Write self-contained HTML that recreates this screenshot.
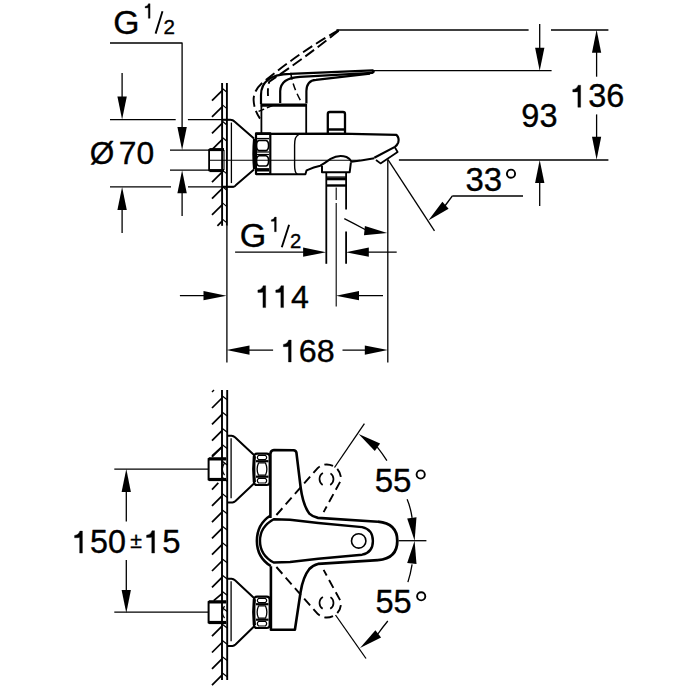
<!DOCTYPE html>
<html><head><meta charset="utf-8"><style>
html,body{margin:0;padding:0;background:#fff;width:700px;height:700px;overflow:hidden}
svg{display:block}
text{font-family:"Liberation Sans",sans-serif;fill:#000;stroke:#000;stroke-width:0.35px}
</style></head><body>
<svg width="700" height="700" viewBox="0 0 700 700" fill="none" stroke="#000" stroke-linecap="butt" stroke-linejoin="round">
<g>
<text x="113.31" y="33.96" font-size="33.73">G</text>
<path d="M150.07 3.70 L150.07 18.30 L148.33 18.30 L148.33 7.80 Q147.56 7.90 145.10 7.94 L145.10 6.47 Q147.87 6.26 148.48 3.70 Z" fill="#000" stroke="#000" stroke-width="0.35"/>
<path d="M155.6 33.6 L162.5 11.3" stroke-width="1.9" />
<text x="163.57" y="34.00" font-size="20.58">2</text>
<path d="M110.0 43.0 L182.1 43.0 L182.1 140.0" stroke-width="1.3" />
<path d="M182.1 150.0 L177.4 127.0 L186.8 127.0 Z" fill="#000" stroke="none"/>
<path d="M122.1 73.0 L122.1 110.0" stroke-width="1.3" />
<path d="M122.1 119.5 L117.4 96.5 L126.8 96.5 Z" fill="#000" stroke="none"/>
<path d="M110.0 119.7 L175.7 119.7" stroke-width="1.3" />
<path d="M187.9 119.7 L230.3 119.7" stroke-width="1.3" />
<path d="M110.0 186.8 L171.0 186.8" stroke-width="1.3" />
<path d="M188.0 186.8 L233.5 186.8" stroke-width="1.3" />
<path d="M122.1 197.0 L122.1 233.0" stroke-width="1.3" />
<path d="M122.1 187.0 L126.8 210.0 L117.4 210.0 Z" fill="#000" stroke="none"/>
<text x="89.72" y="163.71" font-size="31.55">&#216;</text>
<text x="118.73" y="164.18" font-size="31.82">70</text>
<path d="M170.0 150.2 L209.0 150.2" stroke-width="1.3" />
<path d="M170.0 170.2 L209.0 170.2" stroke-width="1.3" />
<path d="M182.1 180.0 L182.1 216.0" stroke-width="1.3" />
<path d="M182.1 170.3 L186.8 193.3 L177.4 193.3 Z" fill="#000" stroke="none"/>
<path d="M222.1 83.0 L222.1 225.8" stroke-width="1.9" />
<path d="M226.9 83.0 L226.9 225.8" stroke-width="1.9" />
<path d="M226.9 225.8 L226.9 362.4" stroke-width="1.3" />
<path d="M212.0 100.6 L222.1 90.6" stroke-width="1.7" />
<path d="M222.1 88.3 L226.9 92.3" stroke-width="1.2" />
<path d="M212.0 116.9 L222.1 106.9" stroke-width="1.7" />
<path d="M222.1 104.6 L226.9 108.6" stroke-width="1.2" />
<path d="M212.0 133.3 L222.1 123.3" stroke-width="1.7" />
<path d="M222.1 121.0 L226.9 125.0" stroke-width="1.2" />
<path d="M212.0 149.6 L222.1 139.6" stroke-width="1.7" />
<path d="M222.1 137.3 L226.9 141.3" stroke-width="1.2" />
<path d="M212.0 182.2 L222.1 172.2" stroke-width="1.7" />
<path d="M222.1 169.9 L226.9 173.9" stroke-width="1.2" />
<path d="M212.0 198.6 L222.1 188.6" stroke-width="1.7" />
<path d="M222.1 186.3 L226.9 190.3" stroke-width="1.2" />
<path d="M212.0 214.9 L222.1 204.9" stroke-width="1.7" />
<path d="M222.1 202.6 L226.9 206.6" stroke-width="1.2" />
<path d="M217.4 225.8 L222.1 221.2" stroke-width="1.7" />
<path d="M222.1 218.9 L226.9 222.9" stroke-width="1.2" />
<path d="M222 119.7 H230.3 Q233 119.8 234.5 121.5 L254 138.6" stroke-width="2"/>
<path d="M222 186.8 H233.5 Q235 186.5 236 185 L254 169.4" stroke-width="2"/>
<path d="M231.4 122.6 L231.4 183.1" stroke-width="1.3" />
<path d="M224 149.7 H209.1 V170.4 H224" stroke-width="1.8"/>
<path d="M209.5 149.6 L224.0 149.6" stroke-width="3" />
<path d="M209.5 170.6 L224.0 170.6" stroke-width="3" />
<path d="M224.0 150.0 L224.0 170.0" stroke-width="1.1" />
<path d="M209.0 160.3 L360.0 160.3" stroke-width="1.1" />
<path d="M256 133.4 H270.3 V174 H256 Z" stroke-width="2.2"/>
<path d="M254.6 138.6 Q253.2 154 254.6 169.4" stroke-width="3.2"/>
<path d="M259 140.5 H266 Q268.6 141 268.6 145.5 Q268.6 150 266 150.6 H259 Q256.5 150 256.5 145.5 Q256.5 141 259 140.5 Z" stroke-width="1.6"/>
<path d="M259 155.7 H266 Q268.6 156.3 268.6 160.8 Q268.6 165.5 266 166 H259 Q256.5 165.5 256.5 160.8 Q256.5 156.3 259 155.7 Z" stroke-width="1.6"/>
<path d="M256.5 138.6 L269.0 138.6" stroke-width="1.4" />
<path d="M256.5 152.0 L269.0 152.0" stroke-width="1.2" />
<path d="M256.5 154.5 L269.0 154.5" stroke-width="1.2" />
<path d="M256.5 169.8 L269.0 169.8" stroke-width="3.4" />
<path d="M261.4 104.0 L261.4 133.4" stroke-width="1.8" />
<path d="M306.2 104.0 L306.2 133.4" stroke-width="1.8" />
<path d="M260.7 105.2 L306.4 105.2" stroke-width="3.2" />
<path d="M256 133.8 L340 133.6 L396.6 134.9 Q399.5 138 398.3 142.3 Q397 145.5 394.9 146.9 L374.3 157.7" stroke-width="2.2"/>
<path d="M298.6 134.9 Q294.6 136 294.6 145 L294.6 165 Q294.6 173 297.4 174.2" stroke-width="1.4"/>
<path d="M256 174.3 H305.4 L306.6 170.3 Q314 167 320.3 165.7 Q325 163 330.6 158.9 Q338.6 154.3 346.5 157 Q350 158.5 351.4 161.7 Q362 160.5 374.3 158.3" stroke-width="2"/>
<path d="M322 165.7 V172.2 H349.7 L350.9 162.3" stroke-width="2"/>
<path d="M394.9 147.4 L397.6 152 L380.5 163.4 L376 160" stroke-width="1.8"/>
<path d="M327.8 133.4 V114 Q327.8 112 329.8 112 H343 Q345 112 345 114 V133.4 M327.8 129.5 H345" stroke-width="2.3"/>
<path d="M326.3 172.0 L326.3 263.8" stroke-width="1.8" />
<path d="M346.1 172.0 L346.1 209.5" stroke-width="1.8" />
<path d="M346.1 231.5 L346.1 263.8" stroke-width="1.8" />
<path d="M326.3 177.1 L346.1 177.1" stroke-width="1.4" />
<path d="M326.3 179.1 L346.1 179.1" stroke-width="2.4" />
<path d="M326.3 185.5 L346.1 185.5" stroke-width="2.4" />
<path d="M336.2 187.4 L336.2 200.0" stroke-width="1.1" />
<path d="M336.2 203.0 L336.2 306.5" stroke-width="1.1" />
<path d="M261 104 L261 95 C261 84 268 74.2 290 73.8 L372.9 70.4 Q375 71.6 372.1 72.9 L300 76.8 C287 77.5 280.5 82 280.2 91 L280.2 103" stroke-width="2.2"/>
<path d="M306.4 103.6 L306.4 91 C306.5 84 309.5 80.3 316 79.8 L370 73.6" stroke-width="2.2"/>
<path d="M338.7 30.1 Q299.8 52 261.6 83.5 Q253.5 91 253.6 100 Q254 110 260 118.6" stroke-width="1.9" stroke-dasharray="11 4.5"/>
<path d="M338.7 30.8 Q304 58.5 269.3 81.6 Q267.5 86 268 96" stroke-width="1.9" stroke-dasharray="11 4.5"/>
<path d="M290.7 72.9 Q293 88 302 103" stroke-width="1.5" stroke-dasharray="7 4"/>
<path d="M258.6 111.4 L275 104.5" stroke-width="1.5" stroke-dasharray="6 3"/>
<path d="M336.4 30.0 L528.6 30.0" stroke-width="1.3" />
<path d="M551.0 30.0 L608.4 30.0" stroke-width="1.3" />
<path d="M372.6 70.7 L551.6 70.7" stroke-width="1.3" />
<path d="M539.7 24.0 L539.7 60.0" stroke-width="1.3" />
<path d="M539.7 70.7 L535.1 47.7 L544.4 47.7 Z" fill="#000" stroke="none"/>
<path d="M596.6 40.0 L596.6 76.7" stroke-width="1.3" />
<path d="M596.6 29.7 L601.2 52.7 L592.0 52.7 Z" fill="#000" stroke="none"/>
<path d="M596.6 114.4 L596.6 149.0" stroke-width="1.3" />
<path d="M596.6 159.7 L592.0 136.7 L601.2 136.7 Z" fill="#000" stroke="none"/>
<path d="M398.9 160.0 L608.4 160.0" stroke-width="1.3" />
<path d="M539.7 170.0 L539.7 205.9" stroke-width="1.3" />
<path d="M539.7 160.0 L544.4 183.0 L535.1 183.0 Z" fill="#000" stroke="none"/>
<path d="M580.63 85.22 L580.63 107.28 L577.87 107.28 L577.87 91.71 Q576.65 91.87 572.76 91.94 L572.76 89.60 Q577.14 89.28 578.11 85.22 Z" fill="#000" stroke="#000" stroke-width="0.35"/>
<text x="588.20" y="107.28" font-size="32.43">3</text>
<text x="606.24" y="107.28" font-size="32.43">6</text>
<text x="521.36" y="127.48" font-size="32.49">93</text>
<path d="M387.8 159.4 L434.5 230.8" stroke-width="1.3" />
<path d="M452.3 196.0 L523.0 196.0" stroke-width="1.3" />
<path d="M443.0 208.5 L452.3 196.0" stroke-width="1.3" />
<path d="M428.3 220.5 L442.4 201.8 L448.6 208.7 Z" fill="#000" stroke="none"/>
<text x="465.57" y="190.77" font-size="32.92">33</text>
<circle cx="511" cy="173.7" r="4.1" stroke-width="1.9"/>
<path d="M387.8 160.0 L387.8 362.4" stroke-width="1.3" />
<text x="239.70" y="247.26" font-size="34.05">G</text>
<path d="M276.27 217.10 L276.27 231.70 L274.53 231.70 L274.53 221.20 Q273.76 221.30 271.30 221.34 L271.30 219.87 Q274.07 219.66 274.68 217.10 Z" fill="#000" stroke="#000" stroke-width="0.35"/>
<path d="M281.8 247.2 L289.1 224.8" stroke-width="1.9" />
<text x="289.99" y="247.70" font-size="20.25">2</text>
<path d="M235.1 252.2 L316.0 252.2" stroke-width="1.3" />
<path d="M326.1 252.2 L303.1 256.8 L303.1 247.5 Z" fill="#000" stroke="none"/>
<path d="M396.7 252.2 L356.0 252.2" stroke-width="1.3" />
<path d="M345.8 252.2 L368.8 247.5 L368.8 256.8 Z" fill="#000" stroke="none"/>
<path d="M344.3 218.6 Q354 223.5 366 230" stroke-width="1.3"/>
<path d="M387.3 232.9 L364.0 235.2 L364.9 226.0 Z" fill="#000" stroke="none"/>
<path d="M179.9 295.7 L216.0 295.7" stroke-width="1.3" />
<path d="M226.5 295.7 L203.5 300.3 L203.5 291.1 Z" fill="#000" stroke="none"/>
<path d="M383.0 295.7 L346.0 295.7" stroke-width="1.3" />
<path d="M336.0 295.7 L359.0 291.1 L359.0 300.3 Z" fill="#000" stroke="none"/>
<path d="M265.66 285.72 L265.66 307.60 L262.93 307.60 L262.93 292.15 Q261.72 292.31 257.86 292.38 L257.86 290.06 Q262.21 289.74 263.17 285.72 Z" fill="#000" stroke="#000" stroke-width="0.35"/>
<path d="M283.56 285.72 L283.56 307.60 L280.83 307.60 L280.83 292.15 Q279.62 292.31 275.76 292.38 L275.76 290.06 Q280.10 289.74 281.07 285.72 Z" fill="#000" stroke="#000" stroke-width="0.35"/>
<text x="291.08" y="307.60" font-size="32.18">4</text>
<path d="M236.0 350.1 L273.1 350.1" stroke-width="1.3" />
<path d="M226.5 350.1 L249.5 345.5 L249.5 354.8 Z" fill="#000" stroke="none"/>
<path d="M342.5 350.1 L377.0 350.1" stroke-width="1.3" />
<path d="M387.8 350.1 L364.8 354.8 L364.8 345.5 Z" fill="#000" stroke="none"/>
<path d="M291.18 340.06 L291.18 361.98 L288.44 361.98 L288.44 346.50 Q287.23 346.67 283.36 346.73 L283.36 344.41 Q287.71 344.09 288.68 340.06 Z" fill="#000" stroke="#000" stroke-width="0.35"/>
<text x="298.71" y="361.98" font-size="32.24">6</text>
<text x="316.64" y="361.98" font-size="32.24">8</text>
<path d="M222.0 389.9 L222.0 680.0" stroke-width="1.9" />
<path d="M227.2 389.9 L227.2 680.0" stroke-width="1.9" />
<path d="M212.0 392.0 L214.0 390.0" stroke-width="1.5" />
<path d="M212.0 408.0 L222.0 398.0" stroke-width="1.7" />
<path d="M222.0 395.7 L227.2 399.7" stroke-width="1.2" />
<path d="M212.0 424.3 L222.0 414.3" stroke-width="1.7" />
<path d="M222.0 412.0 L227.2 416.0" stroke-width="1.2" />
<path d="M212.0 440.6 L222.0 430.6" stroke-width="1.7" />
<path d="M222.0 428.3 L227.2 432.3" stroke-width="1.2" />
<path d="M212.0 456.9 L222.0 446.9" stroke-width="1.7" />
<path d="M222.0 444.6 L227.2 448.6" stroke-width="1.2" />
<path d="M222.0 460.9 L227.2 464.9" stroke-width="1.2" />
<path d="M222.0 477.2 L227.2 481.2" stroke-width="1.2" />
<path d="M212.0 505.8 L222.0 495.8" stroke-width="1.7" />
<path d="M222.0 493.5 L227.2 497.5" stroke-width="1.2" />
<path d="M212.0 522.1 L222.0 512.1" stroke-width="1.7" />
<path d="M222.0 509.8 L227.2 513.8" stroke-width="1.2" />
<path d="M212.0 538.4 L222.0 528.4" stroke-width="1.7" />
<path d="M222.0 526.1 L227.2 530.1" stroke-width="1.2" />
<path d="M212.0 554.7 L222.0 544.7" stroke-width="1.7" />
<path d="M222.0 542.4 L227.2 546.4" stroke-width="1.2" />
<path d="M212.0 571.0 L222.0 561.0" stroke-width="1.7" />
<path d="M222.0 558.7 L227.2 562.7" stroke-width="1.2" />
<path d="M212.0 587.3 L222.0 577.3" stroke-width="1.7" />
<path d="M222.0 575.0 L227.2 579.0" stroke-width="1.2" />
<path d="M222.0 591.3 L227.2 595.3" stroke-width="1.2" />
<path d="M222.0 607.6 L227.2 611.6" stroke-width="1.2" />
<path d="M212.0 636.2 L222.0 626.2" stroke-width="1.7" />
<path d="M222.0 623.9 L227.2 627.9" stroke-width="1.2" />
<path d="M212.0 652.5 L222.0 642.5" stroke-width="1.7" />
<path d="M222.0 640.2 L227.2 644.2" stroke-width="1.2" />
<path d="M212.0 668.8 L222.0 658.8" stroke-width="1.7" />
<path d="M222.0 656.5 L227.2 660.5" stroke-width="1.2" />
<path d="M212.0 685.1 L222.0 675.1" stroke-width="1.7" />
<path d="M222.0 672.8 L227.2 676.8" stroke-width="1.2" />
<path d="M212.0 489.7 L218.3 482.9" stroke-width="1.7" />
<path d="M212.0 456.0 L222.0 446.9" stroke-width="1.7" />
<path d="M213.7 600.7 L222.3 593.4" stroke-width="1.7" />
<path d="M227.6 435.7 H231.5 Q233.5 435.9 235 437.2 L254 454.9" stroke-width="2"/>
<path d="M228 502.5 H232.5 Q234 502.3 235.5 501.0 L254 483.5" stroke-width="2"/>
<path d="M231.1 438.2 L231.1 498.2" stroke-width="1.3" />
<path d="M257 453.7 H266.7 Q269.7 453.7 269.7 456.7 V482.0 Q269.7 485.0 266.7 485.0 H257 Q254 485.0 254 482.0 V456.7 Q254 453.7 257 453.7 Z" stroke-width="2.2"/>
<path d="M254.4 456.2 Q253 469.2 254.4 482.2" stroke-width="3.2"/>
<path d="M256.0 461.2 L268.5 461.2" stroke-width="2.2" />
<path d="M256.0 476.7 L268.5 476.7" stroke-width="2.2" />
<path d="M258.5 455.4 H265.5 Q267.8 457.7 265.5 459.5 H258.5 Q256.2 457.7 258.5 455.4 Z" stroke-width="1.2"/>
<path d="M258.5 483.0 H265.5 Q267.8 480.7 265.5 478.4 H258.5 Q256.2 480.7 258.5 483.0 Z" stroke-width="1.2"/>
<path d="M258.5 462.9 H265.5 Q268.3 469.2 265.5 475.2 H258.5 Q255.7 469.2 258.5 462.9 Z" stroke-width="1.3"/>
<path d="M226.3 458.7 H208.6 V479.7 H226.3" stroke-width="2"/>
<path d="M209.0 458.9 L226.0 458.9" stroke-width="3.2" />
<path d="M209.0 479.5 L226.0 479.5" stroke-width="3.2" />
<path d="M224.5 463.2 Q220 469.2 224.5 475.2" stroke-width="1.3"/>
<path d="M114.3 469.2 L208.6 469.2" stroke-width="1.3" />
<path d="M227.6 578.7 H231.5 Q233.5 578.9000000000001 235 580.2 L254 597.9000000000001" stroke-width="2"/>
<path d="M228 646.0 H232.5 Q234 645.8 235.5 644.5 L254 626.5" stroke-width="2"/>
<path d="M231.1 581.2 L231.1 641.2" stroke-width="1.3" />
<path d="M257 596.7 H266.7 Q269.7 596.7 269.7 599.7 V625.0 Q269.7 628.0 266.7 628.0 H257 Q254 628.0 254 625.0 V599.7 Q254 596.7 257 596.7 Z" stroke-width="2.2"/>
<path d="M254.4 599.2 Q253 612.2 254.4 625.2" stroke-width="3.2"/>
<path d="M256.0 604.2 L268.5 604.2" stroke-width="2.2" />
<path d="M256.0 619.7 L268.5 619.7" stroke-width="2.2" />
<path d="M258.5 598.4000000000001 H265.5 Q267.8 600.7 265.5 602.5 H258.5 Q256.2 600.7 258.5 598.4000000000001 Z" stroke-width="1.2"/>
<path d="M258.5 626.0 H265.5 Q267.8 623.7 265.5 621.4000000000001 H258.5 Q256.2 623.7 258.5 626.0 Z" stroke-width="1.2"/>
<path d="M258.5 605.9000000000001 H265.5 Q268.3 612.2 265.5 618.2 H258.5 Q255.7 612.2 258.5 605.9000000000001 Z" stroke-width="1.3"/>
<path d="M226.3 601.7 H208.6 V622.7 H226.3" stroke-width="2"/>
<path d="M209.0 601.9 L226.0 601.9" stroke-width="3.2" />
<path d="M209.0 622.5 L226.0 622.5" stroke-width="3.2" />
<path d="M224.5 606.2 Q220 612.2 224.5 618.2" stroke-width="1.3"/>
<path d="M114.3 612.2 L208.6 612.2" stroke-width="1.3" />
<path d="M270.4 517.9 L270.4 454 Q270.6 450.2 274 450 L293.5 450.2 Q296 450.5 296.4 452.5 L300.7 487.9 Q303 505 309.3 513.6 Q313 517 318 517.9 L378 521.7" stroke-width="2.6"/>
<path d="M270.9 566.3 L270.9 629.7 L294.9 629.7 L300.6 592 Q303 577 309.3 569 Q313 565 318 563.9 L378 560.1" stroke-width="2.6"/>
<path d="M378 521.7 Q397.3 523.5 397.3 540.9 Q397.3 558.3 378 560.1" stroke-width="2.8"/>
<path d="M270.5 515.5 Q257 524 256.9 540.9 Q257 557.5 270.8 566" stroke-width="2.6"/>
<path d="M273.7 519.3 L290 519.8 L318.3 523 L362.1 527.1 Q372.9 529.5 372.9 540.9 Q372.9 552.3 362.1 554.7 L318.3 558.8 L290 562 L273.7 562.5 Q260 555 260 540.9 Q260 526.8 273.7 519.3 Z" stroke-width="2.4"/>
<circle cx="358.7" cy="540.9" r="7.2" stroke-width="1.6"/>
<path d="M276.4 515 L317.9 467.9 Q326.4 461 336.4 467.9 Q342 474 340.7 480.7 L323.6 512.1" stroke-width="1.9" stroke-dasharray="9 5"/>
<path d="M276.4 567 L317.9 614.1 Q326.4 621 336.4 614.1 Q342 608 340.7 601.3 L323.6 569.9" stroke-width="1.9" stroke-dasharray="9 5"/>
<circle cx="326.5" cy="479.1" r="7" stroke-width="1.7" stroke-dasharray="14 8" stroke-dashoffset="7"/>
<circle cx="326.5" cy="602.9" r="7" stroke-width="1.7" stroke-dasharray="14 8" stroke-dashoffset="7"/>
<path d="M334.5 467.5 L364.4 423.7" stroke-width="1.3" />
<path d="M335.5 615.0 L366.0 658.5" stroke-width="1.3" />
<path d="M377.3 447.1 Q382 453 386.9 460.6" stroke-width="1.3"/>
<path d="M358.6 434.0 L380.1 443.4 L374.8 451.0 Z" fill="#000" stroke="none"/>
<path d="M377.5 634.5 Q382 628 387.8 621" stroke-width="1.3"/>
<path d="M360.0 648.0 L375.4 630.3 L381.1 637.6 Z" fill="#000" stroke="none"/>
<path d="M407.1 499.3 Q410.5 507 412.1 517.9" stroke-width="1.3"/>
<path d="M414.6 540.7 L407.2 518.4 L416.5 517.3 Z" fill="#000" stroke="none"/>
<path d="M407.9 582.1 Q410.5 574 412.1 564.3" stroke-width="1.3"/>
<path d="M414.6 540.7 L416.5 564.1 L407.2 563.0 Z" fill="#000" stroke="none"/>
<path d="M398.6 540.7 L426.4 540.7" stroke-width="1.3" />
<text x="374.68" y="491.67" font-size="33.11">55</text>
<circle cx="420.7" cy="474.5" r="4.1" stroke-width="1.9"/>
<text x="375.50" y="613.17" font-size="32.60">55</text>
<circle cx="421.2" cy="596.3" r="4.1" stroke-width="1.9"/>
<path d="M126.3 479.0 L126.3 521.4" stroke-width="1.3" />
<path d="M126.3 469.1 L130.9 492.1 L121.6 492.1 Z" fill="#000" stroke="none"/>
<path d="M126.3 560.0 L126.3 603.0" stroke-width="1.3" />
<path d="M126.3 612.9 L121.6 589.9 L130.9 589.9 Z" fill="#000" stroke="none"/>
<path d="M82.40 531.11 L82.40 553.08 L79.65 553.08 L79.65 537.57 Q78.44 537.73 74.56 537.80 L74.56 535.47 Q78.92 535.15 79.89 531.11 Z" fill="#000" stroke="#000" stroke-width="0.35"/>
<text x="89.94" y="553.08" font-size="32.31">5</text>
<text x="107.91" y="553.08" font-size="32.31">0</text>
<text x="130.31" y="548.30" font-size="21.27">&#177;</text>
<path d="M154.55 530.68 L154.55 553.07 L151.75 553.07 L151.75 537.27 Q150.52 537.43 146.56 537.50 L146.56 535.13 Q151.01 534.80 152.00 530.68 Z" fill="#000" stroke="#000" stroke-width="0.35"/>
<text x="162.24" y="553.07" font-size="32.92">5</text>
</g>
</svg></body></html>
